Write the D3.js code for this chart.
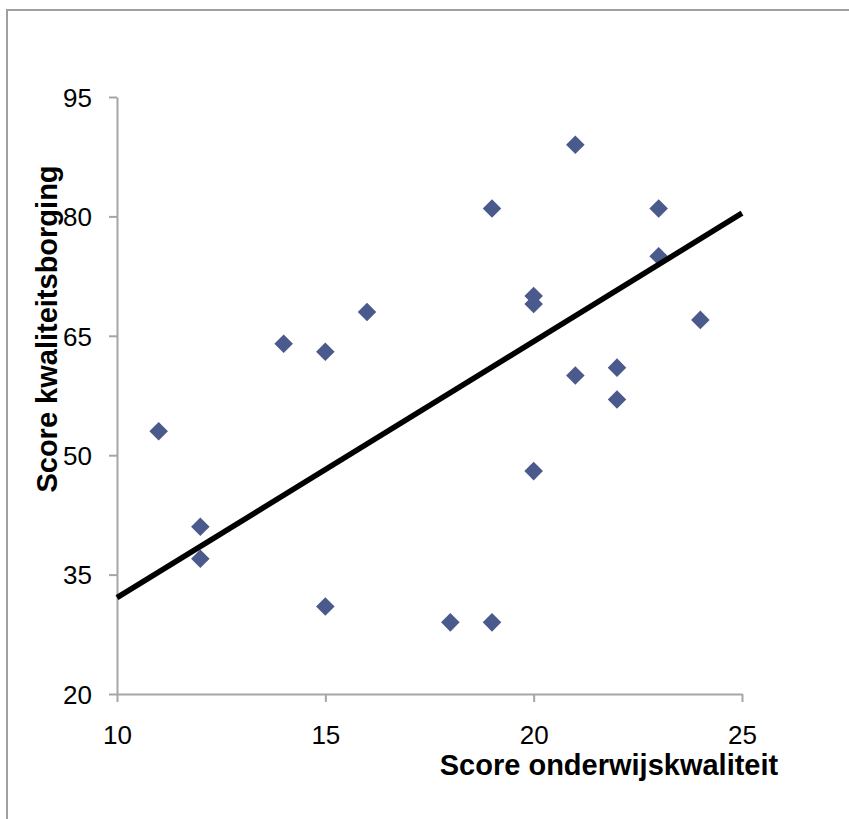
<!DOCTYPE html>
<html><head><meta charset="utf-8">
<script src="https://cdn.jsdelivr.net/npm/d3@7"></script>
<style>html,body{margin:0;padding:0;background:#fff;}svg{display:block;}</style>
</head><body>
<svg id="c" width="849" height="819"></svg>
<script>
const xValues = [11,12,12,14,15,15,16,18,19,19,20,20,20,21,21,22,22,23,23,24];
const yValues = [53,41,37,64,63,31,68,29,81,29,70,69,48,89,60,61,57,81,75,67];
const xTicks = [10,15,20,25];
const yTicks = [20,35,50,65,80,95];
const trendX = [10,25];
const trendY = [32.1,80.4];
const xTitle = "Score onderwijskwaliteit";
const yTitle = "Score kwaliteitsborging";

const svg = d3.select("#c");
const font = "Liberation Sans, Arial, sans-serif";
// outer frame
svg.append("path").attr("d","M7,830 V10 H860").attr("fill","none").attr("stroke","#a0a0a0").attr("stroke-width",2);

const x = d3.scaleLinear().domain([10,25]).range([117,742]);
const y = d3.scaleLinear().domain([20,95]).range([694,97]);
const axisColor = "#a6a6a6";

const gx = svg.append("g").attr("transform","translate(0,694)")
  .call(d3.axisBottom(x).tickValues(xTicks).tickSize(8).tickPadding(24).tickSizeOuter(0));
const gy = svg.append("g").attr("transform","translate(117,0)")
  .call(d3.axisLeft(y).tickValues(yTicks).tickSize(8).tickPadding(17).tickSizeOuter(0));
[gx,gy].forEach(g=>{
  g.select(".domain").attr("stroke",axisColor).attr("stroke-width",2);
  g.selectAll(".tick line").attr("stroke",axisColor).attr("stroke-width",2);
  g.selectAll(".tick text").attr("fill","#000").style("font-family",font).style("font-size","26px");
});
gy.selectAll(".tick text").attr("dy","0.36em");

// points
svg.append("g").selectAll("path").data(xValues.map((v,i)=>[v,yValues[i]])).join("path")
  .attr("d", d3.symbol().type(d3.symbolSquare).size(172))
  .attr("transform", d=>`translate(${x(d[0])},${y(d[1])}) rotate(45)`)
  .attr("fill","#4a5a8c");

// trend line
svg.append("line")
  .attr("x1",x(trendX[0])).attr("y1",y(trendY[0]))
  .attr("x2",x(trendX[1])).attr("y2",y(trendY[1]))
  .attr("stroke","#000").attr("stroke-width",5.5);

svg.append("text").attr("x",609).attr("y",775).attr("text-anchor","middle")
  .style("font-family",font).style("font-weight","bold").style("font-size","29px").text(xTitle);
svg.append("text").attr("transform","translate(57,329) rotate(-90)").attr("text-anchor","middle")
  .style("font-family",font).style("font-weight","bold").style("font-size","29px").text(yTitle);
</script>
</body></html>
